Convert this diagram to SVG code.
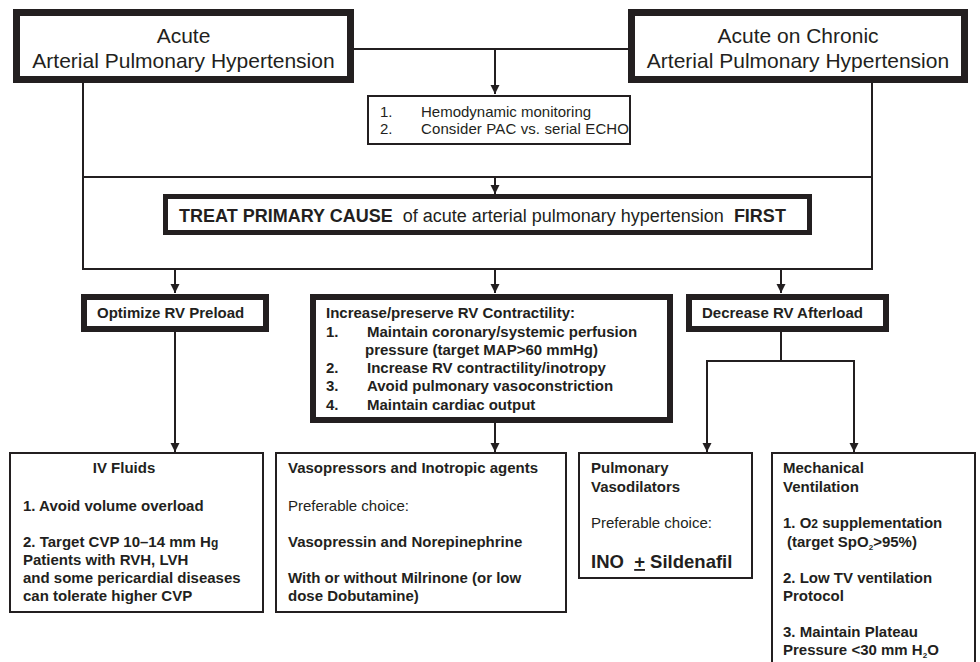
<svg xmlns="http://www.w3.org/2000/svg" width="980" height="662" viewBox="0 0 980 662">
<style>
text{font-family:"Liberation Sans",Arial,sans-serif;fill:#231f20}
.b{font-weight:bold}
.t15{font-size:15px}
.big{font-size:21px}
.box{fill:#fff;stroke:#231f20}
.thin{stroke-width:2}
.ln{stroke:#231f20;stroke-width:2;fill:none}
</style>
<defs>
<marker id="arr" viewBox="0 0 10 10" refX="10" refY="5" markerWidth="9" markerHeight="10" markerUnits="userSpaceOnUse" orient="auto">
<path d="M0,0 L10,5 L0,10 z" fill="#231f20"/>
</marker>
</defs>
<g id="connectors">
<line class="ln" x1="354" y1="49" x2="628" y2="49"/>
<line class="ln" x1="495" y1="49" x2="495" y2="94" marker-end="url(#arr)"/>
<line class="ln" x1="83" y1="83" x2="83" y2="269"/>
<line class="ln" x1="872" y1="83" x2="872" y2="269"/>
<line class="ln" x1="82" y1="177" x2="873" y2="177"/>
<line class="ln" x1="82" y1="269" x2="873" y2="269"/>
<line class="ln" x1="495" y1="177" x2="495" y2="194" marker-end="url(#arr)"/>
<line class="ln" x1="175" y1="269" x2="175" y2="293" marker-end="url(#arr)"/>
<line class="ln" x1="495" y1="269" x2="495" y2="293" marker-end="url(#arr)"/>
<line class="ln" x1="781" y1="269" x2="781" y2="293" marker-end="url(#arr)"/>
<line class="ln" x1="175" y1="332" x2="175" y2="452" marker-end="url(#arr)"/>
<line class="ln" x1="495" y1="423" x2="495" y2="452" marker-end="url(#arr)"/>
<line class="ln" x1="781" y1="332" x2="781" y2="361"/>
<line class="ln" x1="706" y1="361" x2="855" y2="361"/>
<line class="ln" x1="707" y1="361" x2="707" y2="452" marker-end="url(#arr)"/>
<line class="ln" x1="854" y1="361" x2="854" y2="452" marker-end="url(#arr)"/>
</g>
<g id="acute">
<rect class="box" x="16.5" y="12.5" width="334" height="67" stroke-width="7"/>
<text class="big" x="183.5" y="43" text-anchor="middle">Acute</text>
<text class="big" x="183.5" y="68" text-anchor="middle">Arterial Pulmonary Hypertension</text>
</g>
<g id="chronic">
<rect class="box" x="631.5" y="12.5" width="333" height="67" stroke-width="7"/>
<text class="big" x="798" y="43" text-anchor="middle">Acute on Chronic</text>
<text class="big" x="798" y="68" text-anchor="middle">Arterial Pulmonary Hypertension</text>
</g>
<g id="monitoring">
<rect class="box thin" x="368" y="96" width="262" height="48"/>
<text class="t15" x="380" y="117">1.</text>
<text class="t15" x="421" y="117">Hemodynamic monitoring</text>
<text class="t15" x="380" y="134">2.</text>
<text class="t15" x="421" y="134" textLength="208" lengthAdjust="spacing">Consider PAC vs. serial ECHO</text>
</g>
<g id="treat">
<rect class="box" x="165.5" y="196.5" width="644" height="36" stroke-width="5"/>
<text x="179" y="222" font-size="18" xml:space="preserve"><tspan font-weight="bold">TREAT PRIMARY CAUSE</tspan>  of acute arterial pulmonary hypertension  <tspan font-weight="bold">FIRST</tspan></text>
</g>
<g id="preload">
<rect class="box" x="84" y="297" width="182" height="32" stroke-width="6"/>
<text class="b t15" x="97" y="318">Optimize RV Preload</text>
</g>
<g id="contractility">
<rect class="box" x="313" y="297" width="357" height="123" stroke-width="6"/>
<text class="b t15" x="326" y="318">Increase/preserve RV Contractility:</text>
<text class="b t15" x="326" y="337">1.</text>
<text class="b t15" x="367" y="337">Maintain coronary/systemic perfusion</text>
<text class="b t15" x="365" y="355">pressure (target MAP&gt;60 mmHg)</text>
<text class="b t15" x="326" y="373">2.</text>
<text class="b t15" x="367" y="373">Increase RV contractility/inotropy</text>
<text class="b t15" x="326" y="391">3.</text>
<text class="b t15" x="367" y="391">Avoid pulmonary vasoconstriction</text>
<text class="b t15" x="326" y="410">4.</text>
<text class="b t15" x="367" y="410">Maintain cardiac output</text>
</g>
<g id="afterload">
<rect class="box" x="689" y="297" width="197" height="32" stroke-width="6"/>
<text class="b t15" x="702" y="318">Decrease RV Afterload</text>
</g>
<g id="ivfluids">
<rect class="box thin" x="10" y="453" width="253" height="159"/>
<text class="b t15" x="124" y="473" text-anchor="middle">IV Fluids</text>
<text class="b t15" x="23" y="511">1. Avoid volume overload</text>
<text class="b t15" x="23" y="547">2. Target CVP 10–14 mm H<tspan font-size="12">g</tspan></text>
<text class="b t15" x="23" y="565">Patients with RVH, LVH</text>
<text class="b t15" x="23" y="583">and some pericardial diseases</text>
<text class="b t15" x="23" y="601">can tolerate higher CVP</text>
</g>
<g id="vasopressors">
<rect class="box thin" x="276" y="453" width="290" height="159"/>
<text class="b t15" x="288" y="473">Vasopressors and Inotropic agents</text>
<text class="t15" x="288" y="511">Preferable choice:</text>
<text class="b t15" x="288" y="547">Vasopressin and Norepinephrine</text>
<text class="b t15" x="288" y="583">With or without Milrinone (or low</text>
<text class="b t15" x="288" y="601">dose Dobutamine)</text>
</g>
<g id="vasodilators">
<rect class="box thin" x="579" y="453" width="173" height="125"/>
<text class="b t15" x="591" y="473">Pulmonary</text>
<text class="b t15" x="591" y="492">Vasodilators</text>
<text class="t15" x="591" y="528">Preferable choice:</text>
<text class="b" x="591" y="568" font-size="18.5" xml:space="preserve">INO  <tspan text-decoration="underline">+</tspan> Sildenafil</text>
</g>
<g id="ventilation">
<rect class="box thin" x="772" y="453" width="203" height="225"/>
<text class="b t15" x="783" y="473">Mechanical</text>
<text class="b t15" x="783" y="492">Ventilation</text>
<text class="b t15" x="783" y="528">1. O<tspan font-size="12">2</tspan> supplementation</text>
<text class="b t15" x="787" y="547">(target SpO<tspan font-size="8" dy="3">2</tspan><tspan dy="-3">&gt;95%)</tspan></text>
<text class="b t15" x="783" y="583">2. Low TV ventilation</text>
<text class="b t15" x="783" y="601">Protocol</text>
<text class="b t15" x="783" y="637">3. Maintain Plateau</text>
<text class="b t15" x="783" y="655">Pressure &lt;30 mm H<tspan font-size="8" dy="3">2</tspan><tspan dy="-3">O</tspan></text>
</g>
</svg>
